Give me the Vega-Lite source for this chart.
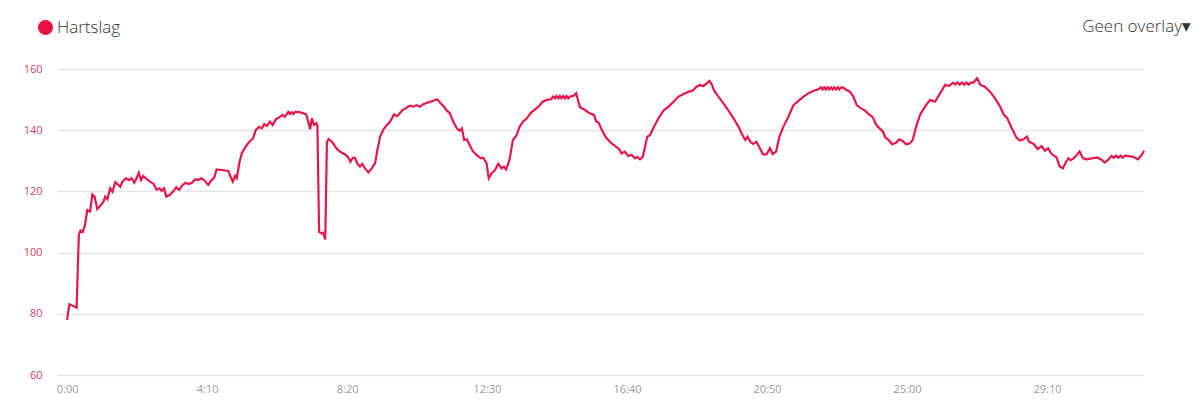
{
  "$schema": "https://vega.github.io/schema/vega-lite/v6.json",
  "width": 1087,
  "height": 306,
  "autosize": {"type": "none"},
  "padding": {"left": 57, "top": 69, "right": 56, "bottom": 35},
  "background": "#ffffff",
  "title": {
    "text": "Geen overlay▾",
    "anchor": "end",
    "frame": "group",
    "orient": "top",
    "offset": -30,
    "baseline": "alphabetic",
    "dx": 47,
    "font": "Open Sans",
    "fontSize": 17,
    "fontWeight": 300,
    "color": "#333333"
  },
  "config": {
    "view": {"stroke": null},
    "font": "Open Sans"
  },
  "data": {
    "values": [
      {"t": 0, "bpm": 78}, {"t": 4, "bpm": 83.1}, {"t": 14, "bpm": 82.3}, {"t": 17, "bpm": 82},
      {"t": 21, "bpm": 105.8}, {"t": 24, "bpm": 107.2}, {"t": 28, "bpm": 106.8}, {"t": 32, "bpm": 109},
      {"t": 36, "bpm": 113.9}, {"t": 41, "bpm": 113.4}, {"t": 45, "bpm": 119}, {"t": 49, "bpm": 118.3},
      {"t": 54, "bpm": 114.2}, {"t": 60, "bpm": 115.5}, {"t": 65, "bpm": 116.6}, {"t": 68, "bpm": 118.3},
      {"t": 72, "bpm": 117.4}, {"t": 77, "bpm": 121}, {"t": 81, "bpm": 119.9}, {"t": 86, "bpm": 123},
      {"t": 90, "bpm": 122.4}, {"t": 95, "bpm": 121.5}, {"t": 99, "bpm": 123.2}, {"t": 105, "bpm": 124.3},
      {"t": 111, "bpm": 123.7}, {"t": 115, "bpm": 124.3}, {"t": 120, "bpm": 122.8}, {"t": 124, "bpm": 124.3},
      {"t": 128, "bpm": 126.1}, {"t": 132, "bpm": 123.7}, {"t": 136, "bpm": 125}, {"t": 142, "bpm": 124},
      {"t": 148, "bpm": 123.2}, {"t": 154, "bpm": 122.6}, {"t": 160, "bpm": 120.5}, {"t": 165, "bpm": 121},
      {"t": 169, "bpm": 120.2}, {"t": 173, "bpm": 121}, {"t": 177, "bpm": 118.3}, {"t": 183, "bpm": 118.8},
      {"t": 189, "bpm": 119.9}, {"t": 195, "bpm": 121.3}, {"t": 200, "bpm": 120.5}, {"t": 205, "bpm": 121.8},
      {"t": 211, "bpm": 122.8}, {"t": 217, "bpm": 122.4}, {"t": 223, "bpm": 122.8}, {"t": 229, "bpm": 124},
      {"t": 234, "bpm": 123.7}, {"t": 240, "bpm": 124.3}, {"t": 246, "bpm": 123.5}, {"t": 252, "bpm": 122.1},
      {"t": 258, "bpm": 123.7}, {"t": 263, "bpm": 124.6}, {"t": 267, "bpm": 127.2}, {"t": 276, "bpm": 127},
      {"t": 288, "bpm": 126.7}, {"t": 292, "bpm": 124.8}, {"t": 296, "bpm": 123.2}, {"t": 300, "bpm": 125.1},
      {"t": 303, "bpm": 124.3}, {"t": 308, "bpm": 129.7}, {"t": 312, "bpm": 132.4}, {"t": 318, "bpm": 134.4},
      {"t": 324, "bpm": 135.9}, {"t": 332, "bpm": 137.3}, {"t": 337, "bpm": 140.1}, {"t": 343, "bpm": 141.1},
      {"t": 348, "bpm": 140.6}, {"t": 352, "bpm": 142}, {"t": 357, "bpm": 141.4}, {"t": 362, "bpm": 142.8},
      {"t": 367, "bpm": 141.7}, {"t": 373, "bpm": 143.6}, {"t": 379, "bpm": 144.2}, {"t": 385, "bpm": 145},
      {"t": 389, "bpm": 144.4}, {"t": 395, "bpm": 146}, {"t": 398, "bpm": 145.3}, {"t": 401, "bpm": 145.9},
      {"t": 404, "bpm": 145.3}, {"t": 407, "bpm": 146}, {"t": 415, "bpm": 145.9}, {"t": 422, "bpm": 145.5},
      {"t": 427, "bpm": 145.2}, {"t": 429, "bpm": 143.9}, {"t": 434, "bpm": 140.3}, {"t": 437, "bpm": 143.9},
      {"t": 441, "bpm": 141.7}, {"t": 445, "bpm": 142.3}, {"t": 447, "bpm": 141.4}, {"t": 450, "bpm": 106.8},
      {"t": 454, "bpm": 106.3}, {"t": 457, "bpm": 106.5}, {"t": 461, "bpm": 104.3}, {"t": 464, "bpm": 136.2},
      {"t": 467, "bpm": 137.1}, {"t": 473, "bpm": 136.2}, {"t": 482, "bpm": 133.8}, {"t": 490, "bpm": 132.7},
      {"t": 498, "bpm": 131.9}, {"t": 502, "bpm": 131.1}, {"t": 506, "bpm": 129.7}, {"t": 510, "bpm": 131},
      {"t": 514, "bpm": 131}, {"t": 518, "bpm": 129.2}, {"t": 523, "bpm": 128.1}, {"t": 527, "bpm": 129},
      {"t": 532, "bpm": 127.5}, {"t": 538, "bpm": 126.2}, {"t": 544, "bpm": 127.5}, {"t": 550, "bpm": 129.2},
      {"t": 554, "bpm": 133.5}, {"t": 559, "bpm": 137.9}, {"t": 565, "bpm": 140.3}, {"t": 571, "bpm": 141.7},
      {"t": 575, "bpm": 142.3}, {"t": 580, "bpm": 143.9}, {"t": 584, "bpm": 145.2}, {"t": 589, "bpm": 144.6},
      {"t": 593, "bpm": 145.3}, {"t": 599, "bpm": 146.6}, {"t": 605, "bpm": 147.2}, {"t": 612, "bpm": 148},
      {"t": 618, "bpm": 147.7}, {"t": 624, "bpm": 148.2}, {"t": 630, "bpm": 147.7}, {"t": 636, "bpm": 148.5},
      {"t": 645, "bpm": 149.1}, {"t": 654, "bpm": 149.6}, {"t": 661, "bpm": 150.1}, {"t": 667, "bpm": 148.8},
      {"t": 673, "bpm": 147.7}, {"t": 678, "bpm": 146.4}, {"t": 683, "bpm": 145.7}, {"t": 687, "bpm": 143.9},
      {"t": 691, "bpm": 142.3}, {"t": 696, "bpm": 140.6}, {"t": 701, "bpm": 139.8}, {"t": 705, "bpm": 140.6},
      {"t": 709, "bpm": 136.8}, {"t": 714, "bpm": 137}, {"t": 718, "bpm": 135.5}, {"t": 724, "bpm": 133.3},
      {"t": 731, "bpm": 131.9}, {"t": 739, "bpm": 130.8}, {"t": 743, "bpm": 131}, {"t": 749, "bpm": 129.2},
      {"t": 753, "bpm": 124.3}, {"t": 758, "bpm": 125.9}, {"t": 764, "bpm": 127}, {"t": 770, "bpm": 129},
      {"t": 776, "bpm": 127.5}, {"t": 780, "bpm": 128.1}, {"t": 784, "bpm": 127.2}, {"t": 790, "bpm": 130.3},
      {"t": 796, "bpm": 136.8}, {"t": 802, "bpm": 138.1}, {"t": 808, "bpm": 141.1}, {"t": 814, "bpm": 142.8},
      {"t": 821, "bpm": 143.9}, {"t": 828, "bpm": 145.7}, {"t": 836, "bpm": 146.8}, {"t": 843, "bpm": 147.9},
      {"t": 849, "bpm": 149.3}, {"t": 857, "bpm": 149.9}, {"t": 864, "bpm": 150.1}, {"t": 868, "bpm": 151},
      {"t": 871, "bpm": 150.4}, {"t": 874, "bpm": 151.2}, {"t": 877, "bpm": 150.4}, {"t": 880, "bpm": 151.2},
      {"t": 883, "bpm": 150.4}, {"t": 886, "bpm": 151.2}, {"t": 889, "bpm": 150.4}, {"t": 892, "bpm": 151.2},
      {"t": 895, "bpm": 150.4}, {"t": 898, "bpm": 151}, {"t": 904, "bpm": 151.2}, {"t": 909, "bpm": 152.1},
      {"t": 913, "bpm": 149.3}, {"t": 916, "bpm": 147.5}, {"t": 925, "bpm": 146.6}, {"t": 933, "bpm": 145.5},
      {"t": 941, "bpm": 145}, {"t": 945, "bpm": 142.8}, {"t": 949, "bpm": 142.5}, {"t": 955, "bpm": 140.1},
      {"t": 962, "bpm": 137.7}, {"t": 971, "bpm": 135.9}, {"t": 980, "bpm": 134.6}, {"t": 986, "bpm": 133.8},
      {"t": 990, "bpm": 132.4}, {"t": 996, "bpm": 133}, {"t": 1002, "bpm": 131.6}, {"t": 1008, "bpm": 131.9},
      {"t": 1014, "bpm": 130.8}, {"t": 1018, "bpm": 131.3}, {"t": 1023, "bpm": 130.5}, {"t": 1028, "bpm": 131.3},
      {"t": 1032, "bpm": 134.6}, {"t": 1036, "bpm": 137.9}, {"t": 1041, "bpm": 138.4}, {"t": 1048, "bpm": 141.1},
      {"t": 1056, "bpm": 143.9}, {"t": 1065, "bpm": 146.4}, {"t": 1074, "bpm": 147.7}, {"t": 1083, "bpm": 149.3},
      {"t": 1092, "bpm": 151}, {"t": 1101, "bpm": 151.8}, {"t": 1110, "bpm": 152.6}, {"t": 1117, "bpm": 152.9},
      {"t": 1124, "bpm": 154.2}, {"t": 1130, "bpm": 154.8}, {"t": 1136, "bpm": 154.4}, {"t": 1142, "bpm": 155.3},
      {"t": 1147, "bpm": 156.1}, {"t": 1151, "bpm": 155.1}, {"t": 1155, "bpm": 153.1}, {"t": 1163, "bpm": 151},
      {"t": 1172, "bpm": 148.8}, {"t": 1181, "bpm": 146.4}, {"t": 1190, "bpm": 143.9}, {"t": 1199, "bpm": 141.1},
      {"t": 1206, "bpm": 138.4}, {"t": 1211, "bpm": 136.8}, {"t": 1215, "bpm": 137.9}, {"t": 1220, "bpm": 136.2},
      {"t": 1225, "bpm": 135.5}, {"t": 1231, "bpm": 136.2}, {"t": 1237, "bpm": 134.1}, {"t": 1243, "bpm": 132.1},
      {"t": 1249, "bpm": 132.1}, {"t": 1255, "bpm": 134.1}, {"t": 1260, "bpm": 132.2}, {"t": 1266, "bpm": 133},
      {"t": 1272, "bpm": 137.9}, {"t": 1279, "bpm": 141.1}, {"t": 1288, "bpm": 144.4}, {"t": 1297, "bpm": 148.2},
      {"t": 1306, "bpm": 149.6}, {"t": 1315, "bpm": 151}, {"t": 1324, "bpm": 152.1}, {"t": 1333, "bpm": 152.9},
      {"t": 1342, "bpm": 153.4}, {"t": 1346, "bpm": 154}, {"t": 1349, "bpm": 153.3}, {"t": 1352, "bpm": 154},
      {"t": 1355, "bpm": 153.3}, {"t": 1358, "bpm": 154}, {"t": 1361, "bpm": 153.3}, {"t": 1364, "bpm": 154},
      {"t": 1367, "bpm": 153.3}, {"t": 1370, "bpm": 154}, {"t": 1373, "bpm": 153.3}, {"t": 1376, "bpm": 154},
      {"t": 1379, "bpm": 153.3}, {"t": 1382, "bpm": 154}, {"t": 1386, "bpm": 153.9}, {"t": 1392, "bpm": 153.1},
      {"t": 1398, "bpm": 152.6}, {"t": 1404, "bpm": 151}, {"t": 1410, "bpm": 148.2}, {"t": 1417, "bpm": 147.2},
      {"t": 1425, "bpm": 146.4}, {"t": 1431, "bpm": 145.3}, {"t": 1439, "bpm": 144.2}, {"t": 1445, "bpm": 141.7},
      {"t": 1451, "bpm": 140.6}, {"t": 1457, "bpm": 139.5}, {"t": 1461, "bpm": 137.7}, {"t": 1467, "bpm": 136.8},
      {"t": 1473, "bpm": 135.4}, {"t": 1480, "bpm": 135.9}, {"t": 1486, "bpm": 137}, {"t": 1492, "bpm": 136.5},
      {"t": 1498, "bpm": 135.4}, {"t": 1505, "bpm": 135.7}, {"t": 1510, "bpm": 136.8}, {"t": 1516, "bpm": 141.1},
      {"t": 1523, "bpm": 145}, {"t": 1532, "bpm": 147.7}, {"t": 1541, "bpm": 149.9}, {"t": 1550, "bpm": 149.3},
      {"t": 1559, "bpm": 152.1}, {"t": 1568, "bpm": 154.8}, {"t": 1575, "bpm": 154.4}, {"t": 1582, "bpm": 155.5},
      {"t": 1586, "bpm": 154.9}, {"t": 1590, "bpm": 155.6}, {"t": 1594, "bpm": 154.9}, {"t": 1598, "bpm": 155.6},
      {"t": 1602, "bpm": 154.9}, {"t": 1606, "bpm": 155.6}, {"t": 1610, "bpm": 154.9}, {"t": 1614, "bpm": 155.6},
      {"t": 1618, "bpm": 155.5}, {"t": 1625, "bpm": 157}, {"t": 1631, "bpm": 154.8}, {"t": 1639, "bpm": 154.2},
      {"t": 1648, "bpm": 152.6}, {"t": 1657, "bpm": 150.4}, {"t": 1666, "bpm": 147.7}, {"t": 1673, "bpm": 145},
      {"t": 1679, "bpm": 143.9}, {"t": 1687, "bpm": 140.6}, {"t": 1695, "bpm": 137.7}, {"t": 1701, "bpm": 136.6},
      {"t": 1708, "bpm": 137}, {"t": 1714, "bpm": 137.9}, {"t": 1718, "bpm": 136.2}, {"t": 1726, "bpm": 135.5},
      {"t": 1733, "bpm": 133.8}, {"t": 1740, "bpm": 134.8}, {"t": 1746, "bpm": 133.3}, {"t": 1752, "bpm": 134.1},
      {"t": 1758, "bpm": 132.2}, {"t": 1767, "bpm": 131.1}, {"t": 1772, "bpm": 128.3}, {"t": 1778, "bpm": 127.5},
      {"t": 1784, "bpm": 129.7}, {"t": 1788, "bpm": 130.8}, {"t": 1792, "bpm": 130.2}, {"t": 1797, "bpm": 130.8},
      {"t": 1803, "bpm": 131.9}, {"t": 1808, "bpm": 133}, {"t": 1814, "bpm": 130.8}, {"t": 1821, "bpm": 130.5},
      {"t": 1830, "bpm": 130.8}, {"t": 1839, "bpm": 131.1}, {"t": 1846, "bpm": 130.5}, {"t": 1853, "bpm": 129.4},
      {"t": 1860, "bpm": 130.5}, {"t": 1865, "bpm": 131.6}, {"t": 1869, "bpm": 131}, {"t": 1873, "bpm": 131.7},
      {"t": 1877, "bpm": 131}, {"t": 1881, "bpm": 131.7}, {"t": 1885, "bpm": 131}, {"t": 1889, "bpm": 131.7},
      {"t": 1893, "bpm": 131.6}, {"t": 1904, "bpm": 131.3}, {"t": 1912, "bpm": 130.5}, {"t": 1919, "bpm": 131.9},
      {"t": 1923, "bpm": 133.3}
    ]
  },
  "mark": {"type": "line", "strokeWidth": 2.2, "interpolate": "linear"},
  "encoding": {
    "x": {
      "field": "t",
      "type": "quantitative",
      "scale": {"domain": [-18, 1923], "nice": false, "zero": false},
      "axis": {
        "title": null,
        "values": [0, 250, 500, 750, 1000, 1250, 1500, 1750],
        "labelExpr": "floor(datum.value/60) + ':' + (datum.value % 60 < 10 ? '0' : '') + (datum.value % 60)",
        "grid": false,
        "domain": false,
        "ticks": false,
        "labelColor": "#9a9a9a",
        "labelFontSize": 11,
        "labelFont": "Open Sans",
        "labelPadding": 8
      }
    },
    "y": {
      "field": "bpm",
      "type": "quantitative",
      "scale": {"domain": [60, 160], "nice": false, "zero": false},
      "axis": {
        "title": null,
        "values": [60, 80, 100, 120, 140, 160],
        "grid": true,
        "gridColor": "#e6e6e6",
        "gridWidth": 1.5,
        "domain": false,
        "ticks": false,
        "labelColor": "#cf3d6e",
        "labelFontSize": 11,
        "labelFont": "Open Sans",
        "labelPadding": 15
      }
    },
    "color": {
      "datum": "Hartslag",
      "type": "nominal",
      "scale": {"range": ["#e3174a"]},
      "legend": {
        "title": null,
        "orient": "none",
        "legendX": -20,
        "legendY": -50,
        "padding": 0,
        "symbolType": "circle",
        "symbolSize": 225,
        "symbolFillColor": "#e8113f",
        "symbolStrokeWidth": 0,
        "labelFontSize": 17,
        "labelFont": "Open Sans",
        "labelFontWeight": 300,
        "labelColor": "#333333",
        "labelOffset": 3
      }
    }
  }
}
